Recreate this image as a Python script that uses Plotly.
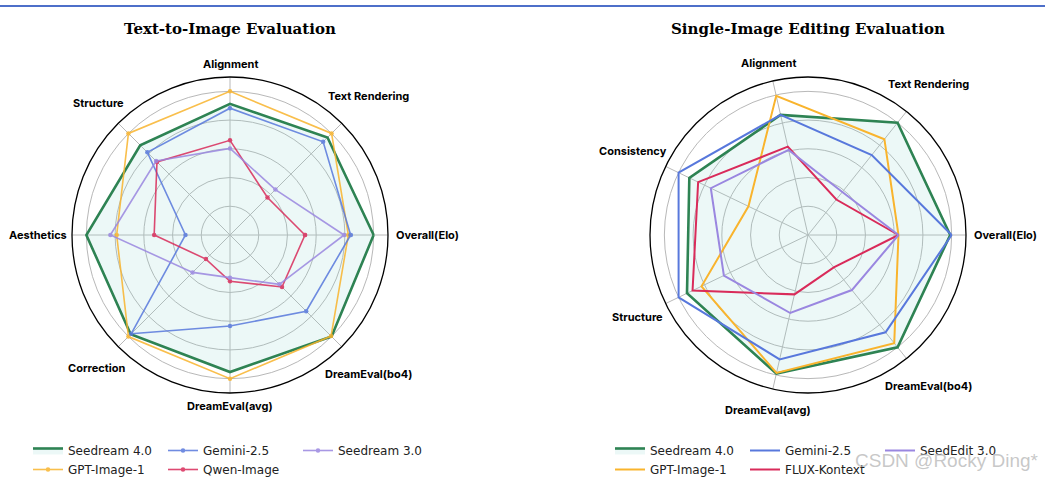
import math
import plotly.graph_objects as go

# ---------------- data ----------------
t2i_categories = ["Overall(Elo)", "Text Rendering", "Alignment", "Structure",
                  "Aesthetics", "Correction", "DreamEval(avg)", "DreamEval(bo4)"]
t2i_seedream4 = [1.00, 0.96, 0.913, 0.884, 1.00, 0.978, 0.954, 1.00]
t2i_gpt = [0.824, 1.00, 1.00, 1.00, 0.789, 1.00, 1.00, 0.995]
t2i_gemini = [0.84, 0.917, 0.883, 0.814, 0.31, 0.972, 0.634, 0.75]
t2i_qwen = [0.522, 0.369, 0.659, 0.719, 0.528, 0.237, 0.322, 0.512]
t2i_seedream3 = [0.794, 0.447, 0.603, 0.728, 0.833, 0.368, 0.297, 0.486]

edit_categories = ["Overall(Elo)", "Text Rendering", "Alignment", "Consistency",
                   "Structure", "DreamEval(avg)", "DreamEval(bo4)"]
edit_seedream4 = [0.99, 1.00, 0.858, 0.917, 0.935, 0.99, 1.00]
edit_gpt = [0.63, 0.853, 0.994, 0.46, 0.823, 0.985, 0.963]
edit_gemini = [1.00, 0.712, 0.858, 1.00, 1.00, 0.888, 0.866]
edit_flux = [0.63, 0.316, 0.631, 0.849, 0.892, 0.424, 0.288]
edit_seededit3 = [0.63, 0.383, 0.608, 0.751, 0.65, 0.557, 0.49]

radial_ticks = [0.2, 0.4, 0.6, 0.8, 1.0]

# ---------------- styles ----------------
GREEN = "#2e8353"
YELLOW = "#f9b42d"
BLUE = "#5878dc"
RED = "#d92b5a"
PURPLE = "#9a87e0"
FILL = "rgba(140,215,205,0.17)"
GRID = "#b8b8b8"
LABEL_FONT = dict(family="Inter", size=11, color="black", weight="bold")

W, H = 1045, 478
R_PX = 158          # outer circle radius in pixels
CY = 235            # vertical centre of both charts
LEFT_CX, RIGHT_CX = 230, 808


def close(vals, cats):
    return list(vals) + [vals[0]], list(cats) + [cats[0]]


fig = go.Figure()

# ---- left chart ----
left_series = [
    ("Seedream 4.0", t2i_seedream4, GREEN, 2.6, False, "L1"),
    ("GPT-Image-1", t2i_gpt, YELLOW, 1.6, True, "L1"),
    ("Gemini-2.5", t2i_gemini, BLUE, 1.6, True, "L2"),
    ("Qwen-Image", t2i_qwen, RED, 1.6, True, "L2"),
    ("Seedream 3.0", t2i_seedream3, PURPLE, 1.6, True, "L3"),
]
for name, vals, col, lw, mk, grp in left_series:
    r, th = close(vals, t2i_categories)
    fig.add_trace(go.Scatterpolar(
        r=r, theta=th, name=name, subplot="polar", legend="legend",
        legendgroup=grp,
        mode="lines+markers" if mk else "lines",
        line=dict(color=col, width=lw),
        marker=dict(size=4.5, color=col),
        opacity=1.0 if not mk else 0.85,
        fill="toself" if name == "Seedream 4.0" else None,
        fillcolor=FILL if name == "Seedream 4.0" else None,
    ))

# ---- right chart ----
right_series = [
    ("Seedream 4.0", edit_seedream4, GREEN, 2.6, "R1"),
    ("GPT-Image-1", edit_gpt, YELLOW, 2.0, "R1"),
    ("Gemini-2.5", edit_gemini, BLUE, 2.0, "R2"),
    ("FLUX-Kontext", edit_flux, RED, 2.0, "R2"),
    ("SeedEdit 3.0", edit_seededit3, PURPLE, 2.0, "R3"),
]
for name, vals, col, lw, grp in right_series:
    r, th = close(vals, edit_categories)
    fig.add_trace(go.Scatterpolar(
        r=r, theta=th, name=name, subplot="polar2", legend="legend2",
        legendgroup=grp, mode="lines",
        line=dict(color=col, width=lw),
        fill="toself" if name == "Seedream 4.0" else None,
        fillcolor=FILL if name == "Seedream 4.0" else None,
    ))


def polar_layout(cx):
    return dict(
        domain=dict(x=[(cx - R_PX) / W, (cx + R_PX) / W],
                    y=[(H - CY - R_PX) / H, (H - CY + R_PX) / H]),
        bgcolor="white",
        radialaxis=dict(range=[0, 1.1], tickvals=radial_ticks, showticklabels=False,
                        ticks="", showline=False, gridcolor=GRID, gridwidth=1),
        angularaxis=dict(rotation=0, direction="counterclockwise",
                         showline=True, linecolor="black", linewidth=1.3,
                         gridcolor=GRID, gridwidth=1, ticks="",
                         showticklabels=False),
    )


def category_labels(categories, cx):
    """Category names placed centred on each spoke, just outside the circle."""
    out = []
    n = len(categories)
    for i, cat in enumerate(categories):
        a = math.radians(360.0 * i / n)
        w = len(cat) * 5.4
        h = 12
        rr = R_PX + 7 + abs(math.cos(a)) * w / 2 + abs(math.sin(a)) * h / 2
        px = cx + rr * math.cos(a)
        py = CY - rr * math.sin(a)
        out.append(dict(text=cat, x=px / W, y=1 - py / H, xref="paper", yref="paper",
                        showarrow=False, xanchor="center", yanchor="middle",
                        font=LABEL_FONT))
    return out


legend_common = dict(
    orientation="h", xanchor="left", yanchor="top", traceorder="grouped",
    font=dict(family="DejaVu Sans", size=12, color="#222"),
    bgcolor="rgba(0,0,0,0)", itemwidth=30, tracegroupgap=0,
    entrywidth=90, entrywidthmode="pixels",
)

annotations = [
    dict(text="<b>Text-to-Image Evaluation</b>", x=LEFT_CX / W, y=1 - 29 / H,
         xref="paper", yref="paper", showarrow=False, xanchor="center", yanchor="middle",
         font=dict(family="DejaVu Serif", size=15, color="black")),
    dict(text="<b>Single-Image Editing Evaluation</b>", x=RIGHT_CX / W, y=1 - 29 / H,
         xref="paper", yref="paper", showarrow=False, xanchor="center", yanchor="middle",
         font=dict(family="DejaVu Serif", size=15, color="black")),
]
annotations += category_labels(t2i_categories, LEFT_CX)
annotations += category_labels(edit_categories, RIGHT_CX)
annotations.append(
    dict(text="CSDN @Rocky Ding*", x=1041 / W, y=1 - 460 / H,
         xref="paper", yref="paper", showarrow=False, xanchor="right", yanchor="middle",
         font=dict(family="Liberation Sans", size=19, color="rgba(175,175,175,0.7)")))

fig.update_layout(
    width=W, height=H,
    margin=dict(l=0, r=0, t=0, b=0, autoexpand=False),
    paper_bgcolor="white",
    showlegend=True,
    polar=polar_layout(LEFT_CX),
    polar2=polar_layout(RIGHT_CX),
    legend=dict(x=28 / W, y=1 - 436 / H, **legend_common),
    legend2=dict(x=610 / W, y=1 - 436 / H, **legend_common),
    annotations=annotations,
    shapes=[
        dict(type="line", xref="paper", yref="paper", x0=0, x1=1,
             y0=1 - 6 / H, y1=1 - 6 / H, line=dict(color="#4d6fc9", width=2)),
    ],
)

fig.write_html("out.html")
